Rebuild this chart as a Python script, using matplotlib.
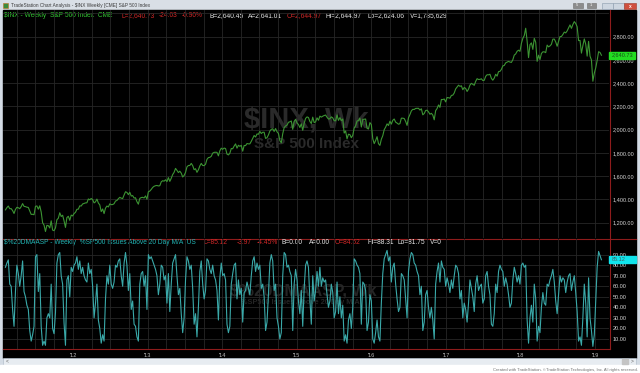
import matplotlib
matplotlib.use("Agg")
import matplotlib.pyplot as plt
import matplotlib.dates as mdates
import matplotlib.ticker as mticker
import matplotlib.transforms as mtransforms
from matplotlib.patches import Rectangle
import pandas as pd

plt.rcParams["font.family"] = ["Liberation Sans", "DejaVu Sans"]

# $INX weekly closes, week of Feb 4 2011 .. week of Feb 1 2019
spx_2011 = [1310, 1329, 1343, 1320, 1321, 1304, 1279, 1314, 1332, 1328, 1320, 1338, 1364,
            1340, 1338, 1333, 1331, 1300, 1271, 1272, 1268, 1340, 1344, 1316, 1345, 1292,
            1199, 1179, 1124, 1177, 1174, 1154, 1216, 1136, 1131, 1155, 1225, 1238, 1285,
            1253, 1264, 1216, 1159, 1244, 1255, 1220, 1265, 1258]
spx_2012 = [1278, 1289, 1315, 1316, 1345, 1343, 1361, 1366, 1370, 1371, 1404, 1397, 1408,
            1398, 1370, 1379, 1403, 1369, 1353, 1295, 1318, 1278, 1325, 1343, 1335, 1362,
            1355, 1356, 1363, 1386, 1391, 1406, 1418, 1411, 1407, 1438, 1466, 1460, 1441,
            1461, 1429, 1433, 1412, 1414, 1380, 1359, 1409, 1416, 1418, 1413, 1430, 1402]
spx_2013 = [1466, 1472, 1486, 1503, 1513, 1518, 1520, 1516, 1518, 1551, 1561, 1557, 1569,
            1553, 1588, 1555, 1582, 1614, 1633, 1667, 1650, 1631, 1643, 1626, 1593, 1606,
            1632, 1680, 1692, 1692, 1710, 1691, 1656, 1664, 1633, 1655, 1688, 1710, 1692,
            1691, 1703, 1745, 1760, 1762, 1771, 1798, 1805, 1806, 1805, 1775, 1818, 1841]
spx_2014 = [1831, 1842, 1838, 1790, 1783, 1797, 1838, 1836, 1859, 1878, 1841, 1866, 1857,
            1865, 1815, 1864, 1863, 1881, 1878, 1878, 1900, 1924, 1950, 1937, 1963, 1961,
            1985, 1967, 1978, 1978, 1925, 1931, 1955, 1988, 2003, 2008, 1985, 2010, 1982,
            1968, 1906, 1887, 1965, 2018, 2032, 2039, 2064, 2068, 2075, 2003, 2071, 2089]
spx_2015 = [2058, 2045, 2019, 2051, 1995, 2055, 2097, 2110, 2105, 2071, 2053, 2108, 2061,
            2067, 2102, 2081, 2117, 2108, 2116, 2122, 2126, 2107, 2092, 2094, 2110, 2102,
            2077, 2077, 2127, 2080, 2104, 2078, 2092, 1971, 1989, 1921, 1961, 1958, 1931,
            1951, 2015, 2033, 2075, 2079, 2100, 2023, 2089, 2090, 2092, 2012, 2006, 2061]
spx_2016 = [2044, 1922, 1880, 1907, 1940, 1880, 1865, 1918, 1948, 2000, 2022, 2050, 2036,
            2073, 2048, 2081, 2092, 2065, 2057, 2047, 2052, 2099, 2099, 2096, 2071, 2037,
            2103, 2130, 2162, 2175, 2174, 2183, 2184, 2184, 2169, 2180, 2128, 2139, 2165,
            2168, 2153, 2133, 2141, 2126, 2085, 2164, 2182, 2213, 2192, 2260, 2259, 2264, 2239]
spx_2017 = [2277, 2275, 2271, 2295, 2297, 2316, 2351, 2367, 2383, 2373, 2378, 2344, 2363,
            2355, 2329, 2349, 2384, 2399, 2391, 2382, 2416, 2439, 2432, 2433, 2438, 2423,
            2425, 2459, 2473, 2472, 2477, 2441, 2426, 2444, 2477, 2461, 2500, 2502, 2519,
            2549, 2553, 2575, 2581, 2588, 2582, 2579, 2602, 2642, 2652, 2675, 2684, 2674]
spx_2018 = [2743, 2786, 2810, 2873, 2762, 2620, 2732, 2747, 2691, 2786, 2752, 2588, 2641,
            2604, 2656, 2670, 2670, 2663, 2728, 2713, 2721, 2735, 2779, 2780, 2755, 2718,
            2760, 2801, 2802, 2819, 2840, 2833, 2850, 2875, 2902, 2872, 2905, 2930, 2914,
            2886, 2767, 2768, 2659, 2723, 2781, 2736, 2633, 2760, 2633, 2600, 2417, 2486]
spx_2019 = [2532, 2596, 2671, 2664.76, 2640.73]

# %SP500 issues above 20 day M/A, same weeks
pct_2011 = [78, 82, 85, 62, 60, 38, 22, 55, 80, 72, 60, 70, 84, 55, 50, 42, 38, 18, 8, 14, 22,
            88, 90, 55, 72, 22, 4, 8, 4, 30, 34, 30, 62, 20, 15, 35, 82, 90, 92, 70, 62, 25, 4,
            66, 70, 50, 78, 74]
pct_2012 = [80, 82, 88, 76, 84, 72, 78, 70, 66, 64, 82, 72, 76, 60, 30, 44, 62, 28, 20, 6, 14,
            8, 48, 70, 62, 80, 62, 58, 64, 80, 78, 84, 86, 70, 60, 82, 92, 80, 56, 72, 38, 46,
            24, 22, 12, 8, 62, 72, 74, 60, 70, 38]
pct_2013 = [90, 86, 88, 84, 80, 76, 70, 52, 62, 80, 78, 66, 70, 44, 72, 36, 62, 82, 86, 90, 70,
            52, 58, 34, 16, 30, 66, 88, 84, 76, 80, 58, 24, 34, 12, 40, 74, 84, 62, 48, 56, 86,
            84, 76, 72, 80, 70, 66, 56, 28, 68, 82]
pct_2014 = [70, 72, 66, 24, 16, 22, 62, 72, 80, 82, 48, 66, 52, 58, 26, 54, 56, 64, 58, 52, 70,
            84, 88, 74, 82, 76, 80, 58, 62, 50, 18, 26, 52, 82, 90, 84, 56, 62, 30, 22, 10, 16,
            70, 92, 90, 78, 80, 74, 70, 18, 62, 76]
pct_2015 = [66, 46, 34, 56, 22, 58, 80, 84, 78, 48, 24, 70, 46, 56, 74, 60, 78, 60, 68, 64, 66,
            52, 40, 46, 62, 54, 30, 36, 64, 34, 50, 30, 42, 8, 14, 6, 28, 34, 20, 40, 86, 84,
            80, 78, 72, 24, 64, 62, 56, 18, 26, 52]
pct_2016 = [46, 10, 6, 16, 28, 12, 8, 44, 72, 86, 90, 94, 84, 88, 64, 78, 82, 62, 48, 36, 40,
            72, 70, 66, 48, 30, 74, 86, 92, 90, 82, 80, 74, 70, 52, 60, 18, 26, 52, 56, 40, 30,
            40, 28, 10, 62, 74, 82, 64, 84, 78, 76, 60]
pct_2017 = [68, 62, 54, 66, 58, 70, 80, 78, 72, 48, 56, 30, 44, 38, 26, 44, 66, 58, 50, 36, 62,
            70, 56, 60, 62, 44, 48, 70, 74, 60, 52, 24, 22, 34, 62, 54, 74, 80, 76, 74, 60, 68,
            62, 52, 40, 44, 66, 78, 72, 64, 70, 62]
pct_2018 = [80, 82, 78, 80, 28, 6, 30, 42, 26, 62, 48, 8, 22, 16, 40, 54, 44, 42, 62, 60, 66,
            70, 76, 64, 46, 34, 52, 70, 64, 68, 66, 54, 64, 70, 72, 56, 64, 70, 54, 36, 8, 12,
            4, 30, 62, 44, 12, 68, 30, 18, 3, 14]
pct_2019 = [46, 78, 93, 89.09, 85.12]

spx = spx_2011 + spx_2012 + spx_2013 + spx_2014 + spx_2015 + spx_2016 + spx_2017 + spx_2018 + spx_2019
pct = pct_2011 + pct_2012 + pct_2013 + pct_2014 + pct_2015 + pct_2016 + pct_2017 + pct_2018 + pct_2019
weeks = pd.date_range("2011-02-04", "2019-02-01", freq="W-FRI")

spx_ticks = [1200, 1400, 1600, 1800, 2000, 2200, 2400, 2600, 2800, 3000]
pct_ticks = [10, 20, 30, 40, 50, 60, 70, 80, 90]

W, H = 640, 373
RED = "#8e1c1c"
GRID = "#272727"


def box(x0, y0, x1, y1):
    # pixel box (top-left origin) -> figure fraction rect
    return [x0 / W, 1 - y1 / H, (x1 - x0) / W, (y1 - y0) / H]


fig = plt.figure(figsize=(6.4, 3.73), dpi=100)

# window chrome drawn in pixel coords
bg = fig.add_axes([0, 0, 1, 1])
bg.set_xlim(0, W)
bg.set_ylim(H, 0)
bg.axis("off")
bg.add_patch(Rectangle((0, 0), W, H, color="#d4dce5"))
bg.add_patch(Rectangle((0, 0), W, 10, color="#d9dfe6"))
bg.add_patch(Rectangle((3, 10), 633, 348, color="black"))
bg.add_patch(Rectangle((3, 357.5), 633, 7, fc="#e7ecf1", ec="#b4c0cc", lw=0.5))
bg.add_patch(Rectangle((0, 365), W, 8, color="white"))
bg.add_patch(Rectangle((622, 358.5), 6, 5, color="#c4c4c4"))
bg.text(7, 361, "<", fontsize=3.5, color="#606060", va="center", ha="center")
bg.text(632, 361, ">", fontsize=3.5, color="#606060", va="center", ha="center")

# title bar
bg.add_patch(Rectangle((3, 2.5), 5, 5, fc="#3c8c3c", ec="#c07020", lw=0.4))
bg.text(11, 5.5, "TradeStation Chart Analysis - $INX Weekly [CME] S&P 500 Index",
        fontsize=3.4, color="#3a3a3a", va="center")
bg.add_patch(Rectangle((573, 3), 10, 5, fc="#8c8c8c", ec="#6c6c6c", lw=0.4))
bg.add_patch(Rectangle((587, 3), 9, 5, fc="#8c8c8c", ec="#6c6c6c", lw=0.4))
bg.text(576, 5.5, "5", fontsize=3, color="white", va="center")
bg.text(589.5, 5.5, "1", fontsize=3, color="white", va="center")
bg.add_patch(Rectangle((602, 3), 11, 6, fc="#cdd6e0", ec="#8a9aac", lw=0.4))
bg.add_patch(Rectangle((613, 3), 11, 6, fc="#cdd6e0", ec="#8a9aac", lw=0.4))
bg.add_patch(Rectangle((624, 3), 12, 6, fc="#d0503e", ec="#9a3a2c", lw=0.4))
bg.text(630, 6, "x", fontsize=3.5, color="white", va="center", ha="center", weight="bold")

bg.text(638, 370, "Created with TradeStation. \u00a9TradeStation Technologies, Inc. All rights reserved.",
        fontsize=3, color="#707070", va="center", ha="right")

# faint watermarks behind the plots
bg.text(306, 127, "$INX, Wk", fontsize=21, weight="bold", color="#2a2a2a", ha="center", va="baseline")
bg.text(306, 148, "S&P 500 Index", fontsize=11, weight="bold", color="#2a2a2a", ha="center", va="baseline")
bg.text(303, 295, "$%20DMAASP, Wk", fontsize=12, weight="bold", color="#252525", ha="center", va="baseline")
bg.text(300, 304, "%SP500 Issues Above 20 Day M/A", fontsize=5.3, weight="bold", color="#252525",
        ha="center", va="baseline")

# red panel edges
bg.plot([3, 636], [238.5, 238.5], color=RED, lw=0.8)
bg.plot([609.5, 609.5], [10, 349], color=RED, lw=0.8)
bg.plot([3, 609.5], [349, 349], color=RED, lw=0.8)

# header lines
WHITE_TXT = "#e6e6e6"
RED_TXT = "#d42828"
top_header = [("$INX - Weekly  S&P 500 Index  CME", "#33c833", 4),
              ("L=2,640.73", RED_TXT, 121), ("-24.03", RED_TXT, 159),
              ("-0.90%", RED_TXT, 182), ("B=2,640.45", WHITE_TXT, 209),
              ("A=2,641.01", WHITE_TXT, 248), ("O=2,644.97", RED_TXT, 287),
              ("Hi=2,644.97", WHITE_TXT, 326), ("Lo=2,624.06", WHITE_TXT, 368),
              ("V=1,785,629", WHITE_TXT, 410)]
low_header = [("$%20DMAASP - Weekly  %SP500 Issues Above 20 Day M/A  US", "#22b4b4", 4),
              ("L=85.12", RED_TXT, 204), ("-3.97", RED_TXT, 237),
              ("-4.45%", RED_TXT, 257), ("B=0.00", WHITE_TXT, 282),
              ("A=0.00", WHITE_TXT, 309), ("O=84.52", RED_TXT, 335),
              ("Hi=88.31", WHITE_TXT, 367), ("Lo=81.75", WHITE_TXT, 398),
              ("V=0", WHITE_TXT, 430)]
for txt, col, x in top_header:
    bg.text(x, 15.7, txt, fontsize=4.8, color=col, va="center", zorder=5)
for txt, col, x in low_header:
    bg.text(x, 242.5, txt, fontsize=4.8, color=col, va="center", zorder=5)

# price panels
ax1 = fig.add_axes(box(3, 10, 609, 238))
ax2 = fig.add_axes(box(3, 239, 609, 349))
x_left, x_right = pd.Timestamp("2011-01-23"), pd.Timestamp("2019-03-10")

for ax in (ax1, ax2):
    ax.set_facecolor("none")
    for s in ax.spines.values():
        s.set_visible(False)
    ax.set_xlim(x_left, x_right)
    ax.xaxis.set_major_locator(mdates.YearLocator())
    ax.xaxis.set_minor_locator(mdates.MonthLocator(bymonth=[4, 7, 10]))
    ax.xaxis.set_major_formatter(mdates.DateFormatter("'%y"))
    ax.grid(True, which="both", axis="x", color=GRID, lw=0.6)
    ax.grid(True, which="major", axis="y", color=GRID, lw=0.6)
    ax.yaxis.tick_right()
    ax.tick_params(which="both", length=0)
    ax.tick_params(axis="y", labelsize=4, labelcolor="#d4d4d4", pad=2.5)
    ax.set_axisbelow(True)

ax1.plot(weeks, spx, color="#3c9433", lw=0.8)
ax1.set_ylim(1068, 3030)
ax1.set_yticks(spx_ticks)
ax1.yaxis.set_major_formatter(mticker.FuncFormatter(lambda v, p: "" if v > 2900 else f"{v:,.2f}"))
ax1.tick_params(axis="x", labelbottom=False)

ax2.plot(weeks, pct, color="#3aa9a9", lw=0.8)
ax2.set_ylim(0.5, 104.8)
ax2.set_yticks(pct_ticks)
ax2.yaxis.set_major_formatter(mticker.FuncFormatter(lambda v, p: f"{v:.2f}"))
ax2.tick_params(axis="x", labelsize=4, labelcolor="#bcbcbc", pad=3)

# last value tags on the price scale
tr1 = mtransforms.blended_transform_factory(ax1.transAxes, ax1.transData)
ax1.add_patch(Rectangle((1.0, spx[-1] - 32), 26 / 606, 64, transform=tr1, color="#22dc22",
                        clip_on=False, zorder=4))
ax1.text(1.0 + 3 / 606, spx[-1], f"{spx[-1]:,.2f}", transform=tr1, fontsize=4,
         color="#185018", va="center", clip_on=False, zorder=5)
tr2 = mtransforms.blended_transform_factory(ax2.transAxes, ax2.transData)
ax2.add_patch(Rectangle((1.0, pct[-1] - 3.2), 27 / 606, 6.4, transform=tr2, color="#10e4ec",
                        clip_on=False, zorder=4))
ax2.text(1.0 + 3 / 606, pct[-1], f"{pct[-1]:.2f}", transform=tr2, fontsize=4,
         color="#406060", va="center", clip_on=False, zorder=5)

fig.savefig("out.png", dpi=100)
